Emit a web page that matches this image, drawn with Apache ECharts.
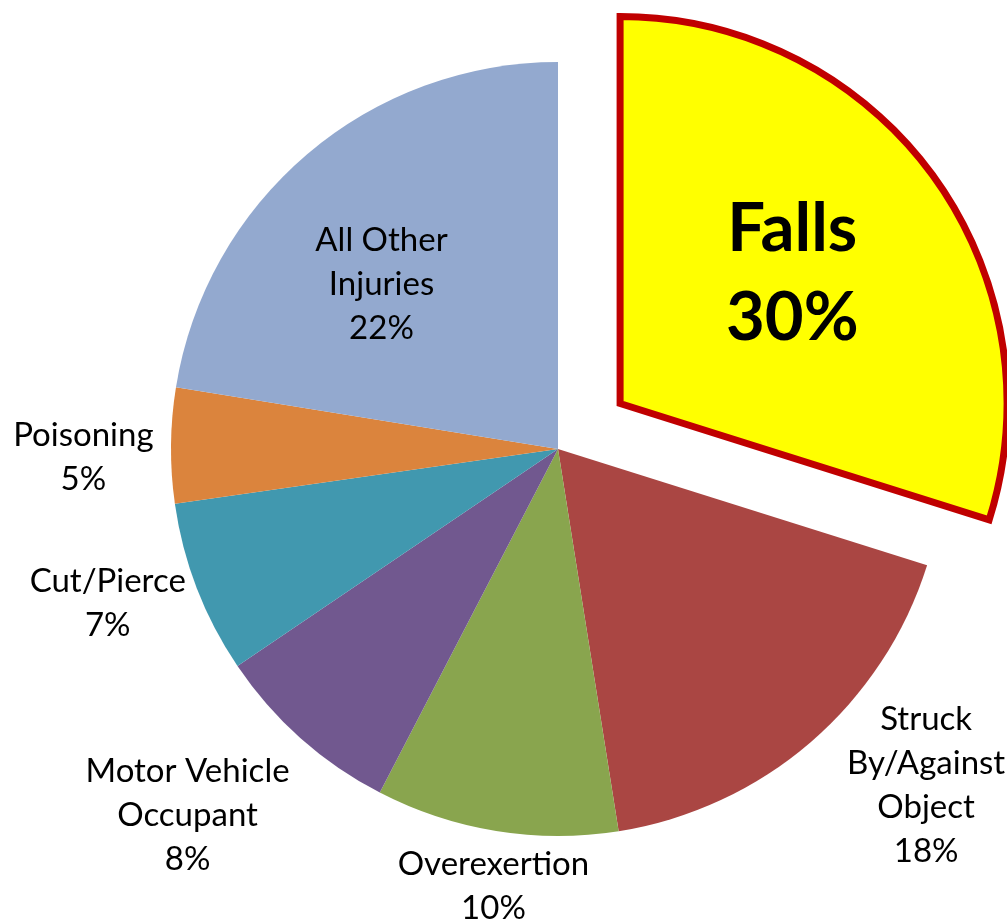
<!DOCTYPE html>
<html>
<head>
<meta charset="utf-8">
<script src="https://cdn.jsdelivr.net/npm/echarts@6/dist/echarts.min.js"></script>
<style>
  html, body { margin: 0; padding: 0; background: #fff; }
  #chart { width: 1007px; height: 924px; }
</style>
</head>
<body>
<div id="chart"></div>
<script>
// data (slice shares, labels show the rounded percent)
const categories = ['Falls', 'Struck\nBy/Against\nObject', 'Overexertion', 'Motor Vehicle\nOccupant', 'Cut/Pierce', 'Poisoning', 'All Other\nInjuries'];
const shares = [29.8, 17.6, 10.1, 7.9, 7.2, 4.8, 22.4];
const colors = ['#FFFF00', '#AA4643', '#89A54E', '#71588F', '#4198AF', '#DB843D', '#93A9CF'];

// layout
const CX = 558, CY = 449, R = 387, EXPLODE = 77, GAP = 8;
const FONT = 'Lato';
const labelInside = [0.558, null, null, null, null, null, 0.62];
const labelNudge = [[-2, -2], [33, -52], [8, -11], [-30, -16], [1, -20], [-9, 13], [-21, 18]];
const CLEAR = 'rgba(0,0,0,0)';

const total = shares.reduce((a, b) => a + b, 0);
const mids = [];
let acc = 0;
shares.forEach(v => { mids.push((acc + v / 2) / total * Math.PI * 2); acc += v; });

// the highlighted slice is pulled out along its middle angle
const fallsDir = [Math.sin(mids[0]), -Math.cos(mids[0])];
const fallsCenter = [CX + fallsDir[0] * EXPLODE, CY + fallsDir[1] * EXPLODE];

function placeLabel(i, p) {
  const a = mids[i];
  const ux = Math.sin(a), uy = -Math.cos(a);
  const o = i === 0 ? fallsCenter : [CX, CY];
  let d;
  if (labelInside[i] != null) d = R * labelInside[i];
  else d = R + GAP + Math.abs(ux) * p.labelRect.width / 2 + Math.abs(uy) * p.labelRect.height / 2;
  return {
    x: o[0] + ux * d + labelNudge[i][0],
    y: o[1] + uy * d + labelNudge[i][1],
    align: 'center',
    verticalAlign: 'middle'
  };
}

const baseLabel = {
  show: true,
  color: '#000',
  fontFamily: FONT,
  fontSize: 33,
  lineHeight: 44,
  align: 'center',
  overflow: 'none',
  formatter: p => p.name + '\n' + Math.round(p.value) + '%'
};

// main pie: every slice but Falls (kept as an empty gap)
const mainData = shares.map((v, i) => {
  const item = { name: categories[i], value: v, itemStyle: { color: colors[i], borderWidth: 0 } };
  if (i === 0) {
    item.itemStyle = { color: CLEAR, borderWidth: 0 };
    item.label = { show: false };
  } else if (labelInside[i] != null) {
    item.label = { position: 'inside' };
  }
  return item;
});

// exploded pie: Falls only, rest of the circle left clear
const fallsData = [
  {
    name: categories[0],
    value: shares[0],
    itemStyle: { color: colors[0], borderColor: '#C00000', borderWidth: 7, borderJoin: 'miter' },
    label: { position: 'inside', fontSize: 67, fontWeight: 'bold', lineHeight: 89 }
  },
  {
    name: 'rest',
    value: total - shares[0],
    itemStyle: { color: CLEAR, borderWidth: 0 },
    label: { show: false }
  }
];

const chart = echarts.init(document.getElementById('chart'), null, { renderer: 'canvas' });
chart.setOption({
  animation: false,
  backgroundColor: '#fff',
  series: [
    {
      type: 'pie',
      center: [CX, CY],
      radius: R,
      startAngle: 90,
      clockwise: true,
      avoidLabelOverlap: false,
      silent: true,
      label: Object.assign({ position: 'outside' }, baseLabel),
      labelLine: { show: false },
      labelLayout: p => placeLabel(p.dataIndex, p),
      data: mainData
    },
    {
      type: 'pie',
      center: fallsCenter,
      radius: R,
      startAngle: 90,
      clockwise: true,
      avoidLabelOverlap: false,
      silent: true,
      label: Object.assign({ position: 'inside' }, baseLabel),
      labelLine: { show: false },
      labelLayout: p => placeLabel(0, p),
      data: fallsData
    }
  ]
});
</script>
</body>
</html>
